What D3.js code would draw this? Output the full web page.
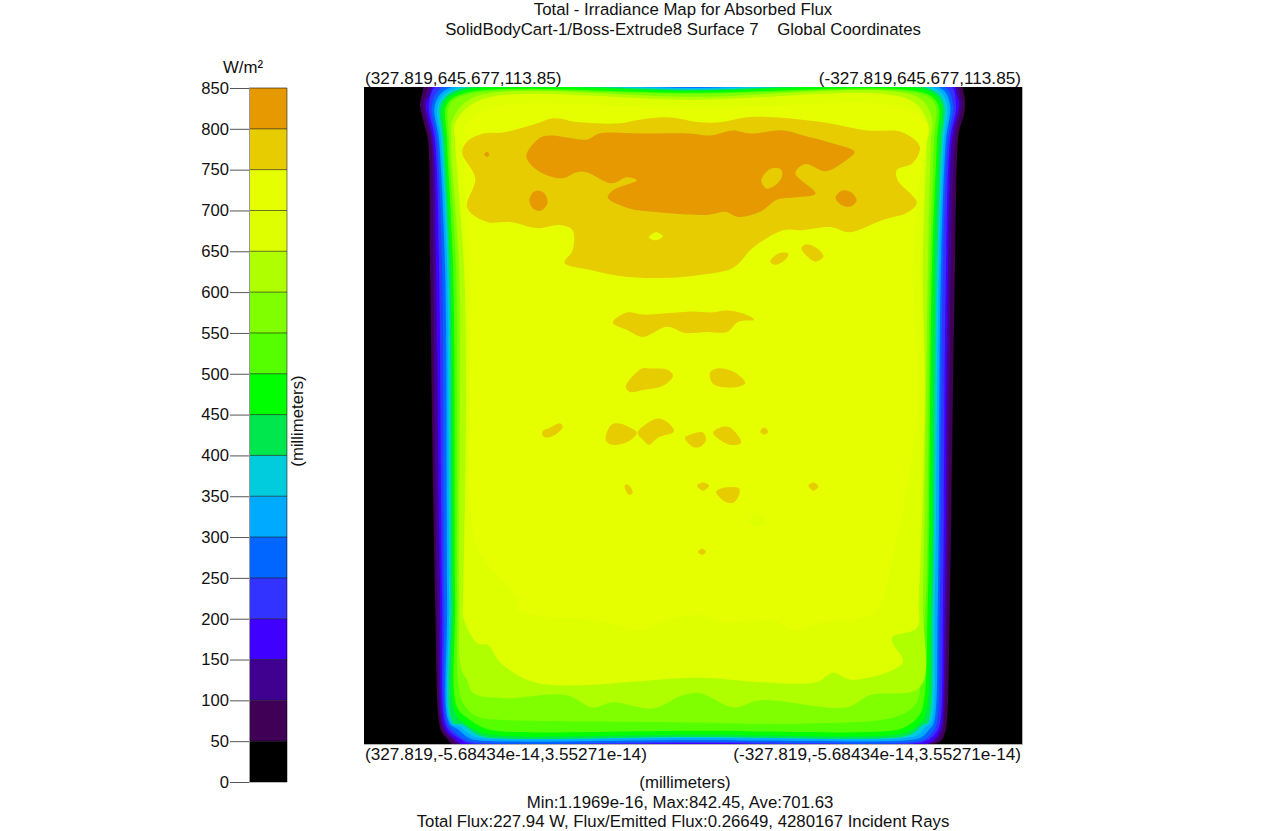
<!DOCTYPE html>
<html>
<head>
<meta charset="utf-8">
<style>
  html, body { margin: 0; background: #fff; }
  svg { display: block; }
  text { font-family: "Liberation Sans", Arial, sans-serif; fill: #111; }
</style>
<script src="https://cdn.jsdelivr.net/npm/d3@7"></script>
</head>
<body>
<div id="chart"></div>
<script>
// Irradiance map, contour bands
// rings are [x mm, y mm] on the surface, painted low level to high level

const width = 1280, height = 831;

const bandEdges = [0, 50, 100, 150, 200, 250, 300, 350, 400, 450, 500, 550, 600, 650, 700, 750, 800, 850];
const bandColors = ["#000000", "#400055", "#400090", "#4000ff", "#3333ff", "#0066ff", "#00aaff", "#00ccdd",
    "#00e64d", "#00ff00", "#55ff00", "#80ff00", "#b0ff00", "#ddff00", "#e6ff00", "#e6cc00", "#e69900"];
const colorTicks = [0, 50, 100, 150, 200, 250, 300, 350, 400, 450, 500, 550, 600, 650, 700, 750, 800, 850];

const ring50 = [[265,650],[270,638],[272,629],[267,606],[264,593],[262,466],[257,142],[253,21],[250,11],[244,4],[240,0],[0,0],[-239,0],[-248,4],[-251,11],[-253,21],[-256,142],[-261,466],[-264,593],[-266,606],[-270,618],[-271,629],[-270,638],[-265,650],[0,650]];
const ring100 = [[260,650],[266,638],[269,629],[264,606],[261,593],[259,466],[255,142],[251,21],[247,11],[240,4],[234,0],[0,0],[-234,0],[-244,4],[-248,11],[-250,21],[-253,142],[-257,466],[-261,593],[-263,606],[-268,629],[-266,638],[-261,650],[0,650]];
const ring150 = [[256,650],[262,638],[266,629],[259,593],[256,466],[252,142],[249,21],[244,11],[236,4],[230,0],[0,0],[-230,0],[-240,4],[-245,11],[-248,21],[-251,142],[-254,466],[-258,593],[-265,629],[-263,638],[-258,650],[0,650]];
const ring200 = [[252,650],[263,629],[257,593],[253,466],[250,142],[247,21],[241,11],[232,5],[224,1],[0,1],[-224,1],[-236,5],[-242,11],[-246,21],[-249,142],[-252,466],[-256,593],[-262,629],[-254,650],[0,650]];
const ring250 = [[247,647],[260,629],[255,593],[250,466],[248,142],[245,21],[238,12],[229,5],[220,2],[0,2],[-220,2],[-232,5],[-239,12],[-243,21],[-246,142],[-249,466],[-254,593],[-259,629],[-249,647],[0,647]];
const ring300 = [[242,645],[257,629],[253,593],[247,466],[245,142],[243,21],[235,15],[225,7],[216,4],[0,4],[-216,4],[-228,7],[-236,15],[-240,21],[-244,142],[-247,466],[-252,593],[-256,629],[-246,645],[0,645]];
const ring350 = [[238,644],[254,629],[251,593],[245,466],[243,142],[241,21],[232,17],[222,9],[212,6],[0,6],[-212,6],[-224,9],[-232,17],[-237,21],[-241,142],[-245,466],[-250,593],[-253,629],[-242,644],[0,644]];
const ring400 = [[234,643],[251,629],[249,593],[243,466],[241,142],[239,21],[229,19],[218,11],[208,7],[0,7],[-208,7],[-220,11],[-229,19],[-234,21],[-239,142],[-243,466],[-248,593],[-250,629],[-238,643],[0,643]];
const ring450 = [[230,642],[248,629],[247,593],[241,466],[239,142],[237,30],[227,20],[215,13],[202,9],[0,9],[-202,9],[-216,13],[-226,20],[-232,30],[-237,142],[-240,466],[-245,593],[-247,629],[-234,642],[0,642]];
const ring500 = [[226,640],[245,629],[245,593],[239,466],[237,142],[235,36],[224,25],[211,17],[197,13],[0,13],[-197,13],[-212,17],[-223,25],[-229,36],[-234,142],[-238,466],[-243,593],[-244,629],[-230,640],[0,640]];
const ring550 = [[222,639],[242,629],[243,593],[236,466],[235,142],[234,60],[229,40],[215,27],[172,23],[100,22],[-7,21],[-107,20],[-203,27],[-223,41],[-227,80],[-232,142],[-236,466],[-240,593],[-241,629],[-226,639],[0,639]];
const ring600 = [[217,636],[239,615],[241,593],[233,466],[233,142],[231,74],[225,63],[219,50],[189,45],[126,48],[100,36],[80,41],[40,35],[10,48],[-7,50],[-40,36],[-67,43],[-153,36],[-176,48],[-226,56],[-229,142],[-234,466],[-237,593],[-238,615],[-223,636],[0,636]];
const ring650 = [[212,633],[237,610],[237,593],[228,466],[226,338],[229,142],[229,125],[215,99],[204,97],[192,80],[155,60],[-7,65],[-64,61],[-124,61],[-139,70],[-159,63],[-209,80],[-198,104],[-223,114],[-225,142],[-231,338],[-229,466],[-233,593],[-234,610],[-216,633],[0,633]];
const ring700 = [[202,625],[227,608],[229,593],[222,466],[222,338],[222,240],[214,191],[175,142],[175,132],[145,125],[100,122],[50,112],[33,119],[-7,127],[-30,119],[-80,122],[-100,112],[-130,120],[-173,125],[-186,135],[-191,151],[-211,240],[-224,338],[-219,466],[-228,574],[-234,608],[-211,625],[0,625]];
const spot650 = [[-56,220],[-64,227],[-72,220],[-64,213]];

const ring750 = [[230,581],[225,592],[209,600],[189,601],[155,610],[139,615],[113,611],[73,610],[56,613],[26,616],[-7,611],[-27,611],[-54,616],[-80,616],[-130,611],[-173,603],[-209,601],[-226,587],[-219,571],[-203,564],[-204,554],[-223,532],[-213,522],[-189,515],[-156,503],[-137,508],[-107,505],[-90,505],[-60,488],[-40,468],[-7,461],[33,458],[73,460],[103,466],[128,473],[120,485],[120,505],[133,510],[155,507],[182,513],[205,513],[225,527],[217,556]];
const islands750 = [
    [[-77,474],[-85,482],[-95,482],[-92,476],[-82,471]],
    [[-108,487],[-112,491],[-124,487],[-130,479],[-122,474],[-114,479]],
    [[80,414],[66,424],[50,422],[30,423],[16,424],[0,425],[-17,424],[-34,426],[-50,423],[-61,417],[-45,415],[-34,405],[-14,405],[8,404],[26,410],[50,400],[66,407]],
    [[67,351],[51,369],[43,369],[26,368],[20,362],[30,352],[50,348],[63,346]],
    [[-17,365],[-24,369],[-40,366],[-52,355],[-45,351],[-27,351],[-19,355]],
    [[150,307],[142,311],[132,315],[130,311],[141,302],[149,302]],
    [[87,302],[81,314],[73,315],[63,311],[56,306],[65,297],[80,294],[86,297]],
    [[55,306],[46,315],[35,320],[25,316],[19,307],[35,301],[44,294],[50,299]],
    [[8,301],[0,305],[-10,306],[-13,299],[-7,292],[0,292]],
    [[-20,306],[-27,311],[-37,311],[-48,296],[-37,294],[-24,301]],
    [[-67,307],[-71,311],[-75,307],[-71,304]],
    [[68,254],[65,255],[60,247],[64,245]],
    [[-4,254],[-10,257],[-16,254],[-10,249]],
    [[-23,248],[-32,252],[-46,251],[-46,245],[-40,237],[-32,238],[-26,243]],
    [[-115,254],[-120,257],[-125,253],[-120,249]],
    [[-5,189],[-9,192],[-13,189],[-9,186]]
];
const hole700 = [[44,498],[37,503],[30,499],[37,495]];

const ring800 = [[166,579],[152,596],[140,598],[126,596],[106,594],[93,600],[53,600],[3,600],[-17,598],[-40,603],[-57,600],[-90,603],[-110,598],[-137,591],[-161,582],[-153,574],[-132,563],[-112,570],[-102,561],[-122,541],[-100,537],[-84,535],[-67,523],[-45,518],[-32,523],[-14,520],[40,523],[66,527],[85,537],[80,544],[56,554],[66,557],[81,551],[106,562],[116,562],[130,556],[150,561],[163,571]];
const islands800 = [
    [[163,535],[158,543],[149,542],[145,532],[152,524],[160,527]],
    [[-142,537],[-149,544],[-158,542],[-163,534],[-156,528],[-146,531]],
    [[208,579],[205,582],[203,579],[205,577]]
];
const hole750 = [[-68,554],[-77,565],[-87,565],[-89,559],[-82,549],[-73,546]];

const titleLines = ["Total - Irradiance Map for Absorbed Flux", "SolidBodyCart-1/Boss-Extrude8 Surface 7    Global Coordinates"];
const cornerLabels = ["(327.819,645.677,113.85)", "(-327.819,645.677,113.85)", "(327.819,-5.68434e-14,3.55271e-14)", "(-327.819,-5.68434e-14,3.55271e-14)"];
const footerLines = ["(millimeters)", "Min:1.1969e-16, Max:842.45, Ave:701.63", "Total Flux:227.94 W, Flux/Emitted Flux:0.26649, 4280167 Incident Rays"];

// painter's list: value band -> ring
const paintOrder = [
    [1, ring50], [2, ring100], [3, ring150], [4, ring200], [5, ring250], [6, ring300], [7, ring350],
    [8, ring400], [9, ring450], [10, ring500], [11, ring550], [12, ring600], [13, ring650], [14, ring700],
    [13, spot650], [15, ring750], ...islands750.map(r => [15, r]), [14, hole700],
    [16, ring800], ...islands800.map(r => [16, r]), [15, hole750]
];

const svg = d3.select("#chart").append("svg")
    .attr("width", width)
    .attr("height", height)
    .attr("viewBox", [0, 0, width, height]);

const x = d3.scaleLinear().domain([327.819, -327.819]).range([364, 1022]);
const y = d3.scaleLinear().domain([0, 645.677]).range([744, 87]);
const colorY = d3.scaleLinear().domain([0, 850]).range([782, 88]);

// Plot
svg.append("clipPath").attr("id", "plot-clip").append("rect")
    .attr("x", x.range()[0]).attr("y", y.range()[1])
    .attr("width", x.range()[1] - x.range()[0])
    .attr("height", y.range()[0] - y.range()[1]);

svg.append("rect")
    .attr("x", x.range()[0]).attr("y", y.range()[1])
    .attr("width", x.range()[1] - x.range()[0] + 1)
    .attr("height", y.range()[0] - y.range()[1] + 1)
    .attr("fill", "#b0b0b0");

const contour = svg.append("g").attr("clip-path", "url(#plot-clip)");

contour.append("rect")
    .attr("x", x.range()[0]).attr("y", y.range()[1])
    .attr("width", x.range()[1] - x.range()[0])
    .attr("height", y.range()[0] - y.range()[1])
    .attr("fill", bandColors[0]);

const ringPath = d3.line()
    .x(d => x(d[0]))
    .y(d => y(d[1]))
    .curve(d3.curveCatmullRomClosed.alpha(0.5));

contour.selectAll("path")
    .data(paintOrder)
    .enter().append("path")
    .attr("d", d => ringPath(d[1]))
    .attr("fill", d => bandColors[d[0]]);

// Colour bar
const barX = 249, barW = 38;
const bands = bandColors.map((c, i) => ({ lo: bandEdges[i], hi: bandEdges[i + 1], color: c }));

svg.append("g").selectAll("rect")
    .data(bands)
    .enter().append("rect")
    .attr("x", barX)
    .attr("y", d => colorY(d.hi))
    .attr("width", barW)
    .attr("height", d => colorY(d.lo) - colorY(d.hi))
    .attr("fill", d => d.color);

svg.append("g").selectAll("line")
    .data(colorTicks)
    .enter().append("line")
    .attr("x1", barX).attr("x2", barX + barW)
    .attr("y1", d => colorY(d)).attr("y2", d => colorY(d))
    .attr("stroke", "#000").attr("stroke-opacity", 0.55);

svg.append("line")
    .attr("x1", barX + barW).attr("x2", barX + barW)
    .attr("y1", colorY(850)).attr("y2", colorY(0))
    .attr("stroke", "#000").attr("stroke-opacity", 0.5);

const colorAxis = svg.append("g")
    .attr("transform", `translate(${barX},0)`)
    .call(d3.axisLeft(colorY).tickValues(colorTicks).tickSizeInner(19).tickSizeOuter(0).tickPadding(1));
colorAxis.select(".domain").attr("stroke", "#999");
colorAxis.selectAll(".tick line").attr("stroke", "#555");
colorAxis.selectAll(".tick text").style("font-size", "16.6px").style("font-family", "Liberation Sans").attr("fill", "#111");

svg.append("text").attr("x", 243).attr("y", 73).attr("text-anchor", "middle")
    .style("font-size", "16.8px").text("W/m²");

svg.append("text")
    .attr("transform", "translate(303,421) rotate(-90)")
    .attr("text-anchor", "middle")
    .style("font-size", "16.8px")
    .text("(millimeters)");

// Titles
svg.selectAll("text.title")
    .data(titleLines)
    .enter().append("text")
    .attr("class", "title")
    .attr("x", 683)
    .attr("y", (d, i) => 15 + i * 20)
    .attr("text-anchor", "middle")
    .style("font-size", "16.8px")
    .style("white-space", "pre")
    .text(d => d);

// Corner coordinates
const cornerPos = [[365, 84, "start"], [1021, 84, "end"], [365, 760, "start"], [1021, 760, "end"]];
svg.selectAll("text.corner")
    .data(cornerLabels)
    .enter().append("text")
    .attr("class", "corner")
    .attr("x", (d, i) => cornerPos[i][0])
    .attr("y", (d, i) => cornerPos[i][1])
    .attr("text-anchor", (d, i) => cornerPos[i][2])
    .style("font-size", "17.2px")
    .text(d => d);

// Footer
svg.selectAll("text.footer")
    .data(footerLines)
    .enter().append("text")
    .attr("class", "footer")
    .attr("x", (d, i) => [685, 680, 683][i])
    .attr("y", (d, i) => 788 + i * 19.5)
    .attr("text-anchor", "middle")
    .style("font-size", "16.8px")
    .text(d => d);
</script>
</body>
</html>
